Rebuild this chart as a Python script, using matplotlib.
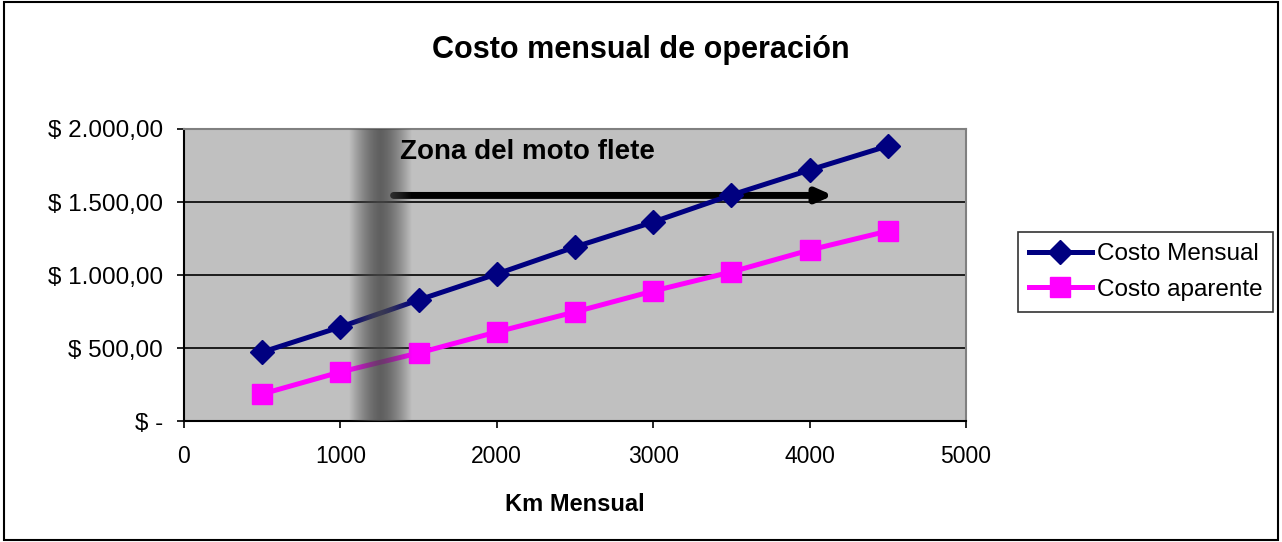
import numpy as np
import matplotlib.pyplot as plt
from matplotlib.patches import Rectangle

plt.rcParams['font.family'] = ['Liberation Sans', 'DejaVu Sans']

# km recorridos por mes
km = [500, 1000, 1500, 2000, 2500, 3000, 3500, 4000, 4500]
costo_mensual = [472, 644, 829, 1007, 1192, 1363, 1548, 1719, 1884]
costo_aparente = [185, 336, 466, 610, 747, 890, 1021, 1171, 1301]

y_ticks = [0, 500, 1000, 1500, 2000]
y_labels = ['$ -', '$ 500,00', '$ 1.000,00', '$ 1.500,00', '$ 2.000,00']
x_ticks = [0, 1000, 2000, 3000, 4000, 5000]

# franja sombreada y flecha de la zona
zona_centro = 1255
zona_ancho = 200
flecha_inicio = 1340
flecha_fin = 4150
flecha_y = 1545

fig = plt.figure(figsize=(12.82, 5.42), dpi=100)
ax = fig.add_axes([0.1435, 0.2232, 0.61, 0.5388])
ax.set_facecolor('#C0C0C0')

ax.plot(km, costo_mensual, color='#000080', lw=3.6, marker='D', ms=12,
        label='Costo Mensual', zorder=3)
ax.plot(km, costo_aparente, color='#FF00FF', lw=3.6, marker='s', ms=15,
        label='Costo aparente', zorder=3)

# degradado vertical gris encima de las series
xs = np.linspace(-1, 1, 200)
alpha = np.clip(1 - np.abs(xs) ** 1.5, 0, 1) * 0.8
img = np.zeros((1, xs.size, 4))
img[..., :3] = 0.28
img[..., 3] = alpha
ax.imshow(img, extent=[zona_centro - zona_ancho, zona_centro + zona_ancho, 0, 2000],
          aspect='auto', interpolation='bilinear', zorder=4)

ax.annotate('', xy=(flecha_fin, flecha_y), xytext=(flecha_inicio, flecha_y),
            arrowprops=dict(arrowstyle='-|>,head_length=0.9,head_width=0.4',
                            color='black', lw=5, shrinkA=0, shrinkB=0),
            zorder=2.5)
ax.text(1381, 1842, 'Zona del moto flete', fontsize=20, fontweight='bold',
        ha='left', va='center', zorder=5)

ax.set_xlim(0, 5000)
ax.set_ylim(0, 2000)
ax.set_xticks(x_ticks)
ax.set_xticklabels([str(v) for v in x_ticks])
ax.set_yticks(y_ticks)
ax.set_yticklabels(y_labels)
ax.tick_params(axis='both', direction='out', length=5, width=1.2,
               labelsize=16.5)
ax.tick_params(axis='y', pad=10, labelsize=17.5)
ax.tick_params(axis='x', pad=12)
ax.yaxis.grid(True, color='black', lw=1.2)
ax.set_axisbelow(True)

for s in ['left', 'bottom']:
    ax.spines[s].set_color('black')
    ax.spines[s].set_linewidth(1.5)
for s in ['top', 'right']:
    ax.spines[s].set_color('#808080')
    ax.spines[s].set_linewidth(1.5)

ax.set_xlabel('Km Mensual', fontsize=17, fontweight='bold', labelpad=18)
fig.text(0.5, 0.908, 'Costo mensual de operación', fontsize=22,
         fontweight='bold', ha='center', va='center')

leg = ax.legend(loc='center left', bbox_to_anchor=(1.066, 0.51), fontsize=17.5,
                frameon=True, fancybox=False, edgecolor='black',
                handlelength=2.6, handletextpad=0.2, borderpad=0.45,
                borderaxespad=0, labelspacing=0.55)
leg.get_frame().set_linewidth(1.2)

fig.patches.append(Rectangle((0.003, 0.003), 0.994, 0.994,
                             transform=fig.transFigure, fill=False,
                             edgecolor='black', lw=1.5))

fig.savefig('out.png', dpi=100)
